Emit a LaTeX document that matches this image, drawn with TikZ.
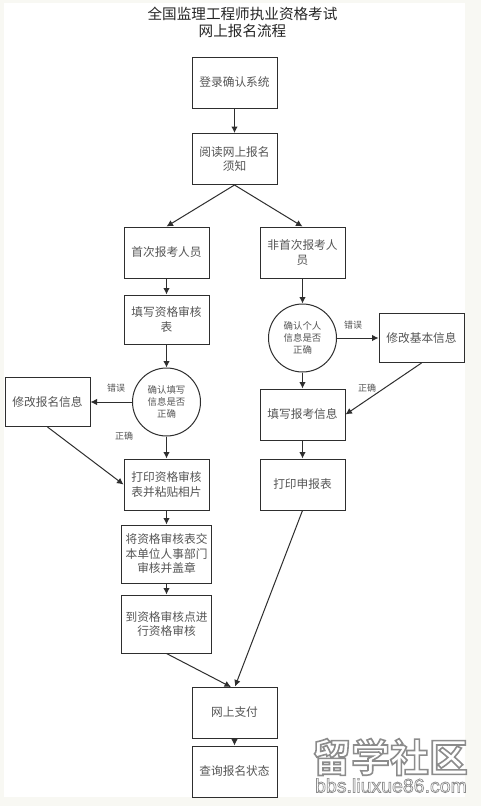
\documentclass[tikz,border=0pt]{standalone}
\usepackage{fontspec}
\setmainfont{Noto Sans CJK SC}
\newfontfamily\wmlatin{Liberation Sans}
\newfontfamily\wmcjk{Noto Sans CJK SC Bold}
\usetikzlibrary{arrows.meta}
\definecolor{pagebg}{HTML}{F8F8F3}
\definecolor{lineC}{HTML}{2E2E2E}
\definecolor{txtC}{HTML}{555555}
\newcommand{\outlined}[2]{\special{pdf:code q 2 Tr 0.55 G #1 w}#2\special{pdf:code Q}}
\tikzset{
  bx/.style={draw=lineC,line width=1pt,fill=white,inner sep=0pt,align=center,text=txtC,
    font=\fontsize{11.7}{14.5}\selectfont,minimum width=85pt,minimum height=51pt},
  wbx/.style={bx,minimum width=90.5pt},
  rnd/.style={draw=lineC,line width=1pt,fill=white,circle,inner sep=0pt,minimum size=68pt,align=center,
    text=txtC,font=\fontsize{9.4}{11.7}\selectfont},
  lbl/.style={inner sep=0pt,text=txtC,font=\fontsize{9}{11}\selectfont},
  ttl/.style={inner sep=0pt,align=center,text=black!85,font=\fontsize{14.6}{17.5}\selectfont},
  arr/.style={draw=lineC,line width=1pt,-{Latex[length=6.5pt,width=6.5pt]}},
  wm/.style={inner sep=0pt,text=white,font=\wmcjk\fontsize{39}{39}\selectfont},
  wmb/.style={inner sep=0pt,text=white,font=\wmlatin\fontsize{19.5}{20}\selectfont}
}
\begin{document}
\begin{tikzpicture}[x=1pt,y=-1pt]
\useasboundingbox (0,0) rectangle (481,806);
\fill[pagebg] (0,0) rectangle (481,806);
\fill[white] (4,3) rectangle (465,797);
\node[ttl] (title) at (242.5,22.5) {全国监理工程师执业资格考试\\网上报名流程};
\node[bx] (login) at (234.5,82.5) {登录确认系统};
\node[bx] (read) at (234.5,159) {阅读网上报名\\须知};
\node[bx] (first) at (166.5,252.5) {首次报考人员};
\node[bx] (nonfirst) at (302.5,252.5) {非首次报考人\\员};
\node[bx,minimum height=49pt] (fill) at (166.5,319.5) {填写资格审核\\表};
\node[rnd] (c1) at (166.5,402) {确认填写\\信息是否\\正确};
\node[bx,minimum height=49pt] (modify) at (47.5,402) {修改报名信息};
\node[bx] (print) at (166.5,484.5) {打印资格审核\\表并粘贴相片};
\node[wbx,minimum height=58pt] (submit) at (166.5,554) {将资格审核表交\\本单位人事部门\\审核并盖章};
\node[wbx,minimum height=58pt] (goto) at (166.5,624) {到资格审核点进\\行资格审核};
\node[bx] (pay) at (234.5,712.5) {网上支付};
\node[bx] (query) at (234.5,771.5) {查询报名状态};
\node[rnd] (c2) at (302.5,338) {确认个人\\信息是否\\正确};
\node[bx,minimum height=49pt] (modbasic) at (421.5,338) {修改基本信息};
\node[bx] (fillinfo) at (302.5,414.5) {填写报考信息};
\node[bx] (printreq) at (302.5,484.5) {打印申报表};
\node[lbl] (e1) at (116,388) {错误};
\node[lbl] (r1) at (124,436) {正确};
\node[lbl] (e2) at (353,325) {错误};
\node[lbl] (r2) at (367,388) {正确};
\coordinate (payl) at (231,687);
\coordinate (payr) at (235,686.5);
\draw[arr] (login) -- (read);
\draw[arr] (read.south) -- (first.north);
\draw[arr] (read.south) -- (nonfirst.north);
\draw[arr] (first) -- (fill);
\draw[arr] (fill) -- (c1);
\draw[arr] (c1) -- (modify);
\draw[arr] (c1) -- (print);
\draw[arr] (modify.south) -- (print.west);
\draw[arr] (print) -- (submit);
\draw[arr] (submit) -- (goto);
\draw[arr] (goto.south) -- (payl);
\draw[arr] (pay) -- (query);
\draw[arr] (nonfirst) -- (c2);
\draw[arr] (c2) -- (modbasic);
\draw[arr] (c2) -- (fillinfo);
\draw[arr] (modbasic.south) -- (fillinfo.east);
\draw[arr] (fillinfo) -- (printreq);
\draw[arr] (printreq.south) -- (payr);
\node[wm] (wmark) at (390,757) {\outlined{1.6}{留学社区}};
\node[wmb] (wmbtext) at (391,785.5) {\outlined{0.7}{bbs.liuxue86.com}};
\end{tikzpicture}
\end{document}
